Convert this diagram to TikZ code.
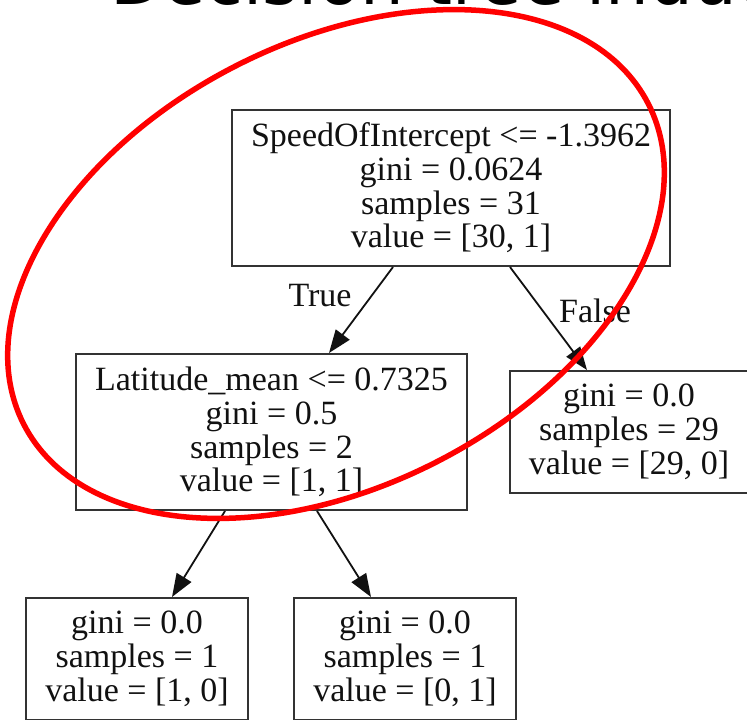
\documentclass[tikz,border=0pt]{standalone}
\usepackage{fontspec}
\setmainfont{Liberation Serif}
\newfontfamily\titlefont{DejaVu Sans}
\usepackage{tikz}
\usetikzlibrary{arrows.meta,positioning}
\definecolor{trink}{HTML}{111111}
\definecolor{trbox}{HTML}{333333}
\definecolor{trred}{HTML}{FF0000}

\begin{document}
\begin{tikzpicture}[x=1pt,y=-1pt,
  splitNode/.style={rectangle,draw=trbox,line width=2pt,align=center,
    font=\fontsize{34}{33.7}\selectfont,text=trink,inner xsep=19pt,
    minimum height=156pt},
  leafNode/.style={splitNode,minimum height=122pt},
  edgeLabel/.style={anchor=base,inner sep=0pt,text=trink,
    font=\fontsize{34}{34}\selectfont},
  branch/.style={draw=trink,line width=1.8pt,-{Triangle[length=23pt,width=17pt]}}
]
\useasboundingbox (0,0) rectangle (747,720);
\clip (0,0) rectangle (747,720);
\node[anchor=base west,inner sep=0pt,font=\titlefont\fontsize{69}{69}\selectfont]
  (title) at (110,5) {Decision tree induction};

\node[splitNode] (root) at (451,188)
  {SpeedOfIntercept <= -1.3962\\gini = 0.0624\\samples = 31\\value = [30, 1]};
\node[splitNode] (lat) at (271.5,432)
  {Latitude\_mean <= 0.7325\\gini = 0.5\\samples = 2\\value = [1, 1]};
\node[leafNode] (leafR) at (629,432)
  {gini = 0.0\\samples = 29\\value = [29, 0]};
\node[leafNode] (leafA) at (137,659)
  {gini = 0.0\\samples = 1\\value = [1, 0]};
\node[leafNode] (leafB) at (405,659)
  {gini = 0.0\\samples = 1\\value = [0, 1]};

\draw[branch] ([xshift=-58pt]root.south) -- ([xshift=57.5pt]lat.north);
\draw[branch] ([xshift=59pt]root.south) -- ([xshift=-42pt]leafR.north);
\draw[branch] ([xshift=-46.5pt]lat.south) -- ([xshift=35pt]leafA.north);
\draw[branch] ([xshift=45.5pt]lat.south) -- ([xshift=-34pt]leafB.north);
\node[edgeLabel] (yes) at (320,306) {True};
\node[edgeLabel] (no) at (595,322) {False};

\draw[trred,line width=5.5pt,rotate around={27.2:(336,264)}]
  (336,264) ellipse[x radius=351,y radius=222];
\end{tikzpicture}
\end{document}
